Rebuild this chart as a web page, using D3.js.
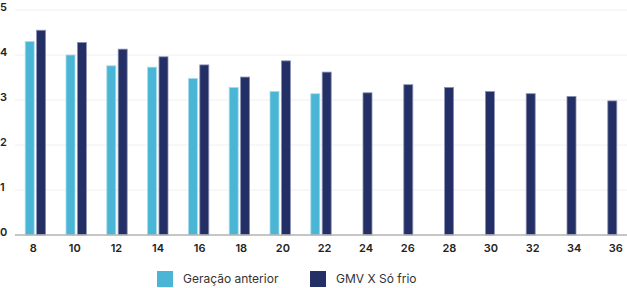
<!DOCTYPE html>
<html>
<head>
<meta charset="utf-8">
<script src="https://cdn.jsdelivr.net/npm/d3@7"></script>
<style>
  body { margin: 0; background: #fff; }
  text { font-family: Inter, "Noto Sans", sans-serif; }
</style>
</head>
<body>
<script>
// chart data
const categories = ["8", "10", "12", "14", "16", "18", "20", "22", "24", "26", "28", "30", "32", "34", "36"];
const seriesNames = ["Geração anterior", "GMV X Só frio"];
const anterior = [4.30, 4.00, 3.76, 3.73, 3.48, 3.28, 3.19, 3.14, null, null, null, null, null, null, null];
const gmv = [4.55, 4.28, 4.13, 3.96, 3.78, 3.51, 3.87, 3.62, 3.16, 3.34, 3.28, 3.19, 3.14, 3.08, 2.98];
const yTicks = [0, 1, 2, 3, 4, 5];
const colors = ["#4ab5d4", "#242f66"];

const width = 627, height = 288;
const plotLeft = 15, plotRight = 627, plotTop = 10, plotBottom = 235;

const svg = d3.select("body").append("svg")
    .attr("width", width)
    .attr("height", height);

// scales
const x0 = d3.scaleBand().domain(categories).range([plotLeft, plotRight]);
const x1 = d3.scaleBand().domain(seriesNames)
    .range([x0.bandwidth() / 4, x0.bandwidth() * 3 / 4])
    .paddingInner(0.21);
// labels sit on a slightly different spread than the bars
const xLabels = d3.scalePoint().domain(categories).range([32.7, 615.3]);
const y = d3.scaleLinear().domain([0, 5]).range([plotBottom, plotTop]);

// gridlines
svg.append("g")
    .selectAll("line")
    .data(yTicks.filter(d => d > 0))
    .join("line")
    .attr("x1", plotLeft).attr("x2", plotRight)
    .attr("y1", d => y(d)).attr("y2", d => y(d))
    .attr("stroke", "#f0f0f0")
    .attr("stroke-width", 1);

// y labels
svg.append("g")
    .selectAll("text")
    .data(yTicks)
    .join("text")
    .attr("x", 0)
    .attr("y", d => y(d) - 2)
    .attr("dominant-baseline", "middle")
    .attr("font-size", 11)
    .attr("font-weight", 600)
    .attr("fill", "#222")
    .text(d => d);

// bars
const rows = categories.map((c, i) => ({ cat: c, values: [anterior[i], gmv[i]] }));
const groups = svg.append("g")
    .selectAll("g")
    .data(rows)
    .join("g")
    .attr("transform", d => "translate(" + x0(d.cat) + ",0)");

groups.selectAll("rect")
    .data(d => d.values.map((v, j) => ({ key: seriesNames[j], v: v, j: j })).filter(d => d.v !== null))
    .join("rect")
    .attr("x", d => x1(d.key))
    .attr("width", x1.bandwidth())
    .attr("y", d => y(d.v))
    .attr("height", d => y(0) - y(d.v))
    .attr("fill", d => colors[d.j])
    .attr("stroke", d => d.j === 0 ? "#a9deeb" : "#8c92b3")
    .attr("stroke-width", 0.8);

// x axis
const xAxis = d3.axisBottom(xLabels).tickSize(0).tickPadding(9);
const gx = svg.append("g")
    .attr("transform", "translate(0," + plotBottom + ")")
    .call(xAxis);
gx.select(".domain").remove();
gx.selectAll("text")
    .attr("font-family", "Inter, sans-serif")
    .attr("font-size", 11)
    .attr("font-weight", 600)
    .attr("fill", "#222");

svg.append("line")
    .attr("x1", plotLeft).attr("x2", plotRight)
    .attr("y1", plotBottom).attr("y2", plotBottom)
    .attr("stroke", "#b3b3b3")
    .attr("stroke-width", 1.5);

// legend
const legendX = [157, 310];
const legend = svg.append("g")
    .selectAll("g")
    .data(seriesNames)
    .join("g")
    .attr("transform", (d, i) => "translate(" + legendX[i] + ",271)");
legend.append("rect")
    .attr("width", 16).attr("height", 16)
    .attr("fill", (d, i) => colors[i]);
legend.append("text")
    .attr("x", 26)
    .attr("y", 9)
    .attr("dominant-baseline", "middle")
    .attr("font-size", 12)
    .attr("fill", "#333")
    .text(d => d);
</script>
</body>
</html>
